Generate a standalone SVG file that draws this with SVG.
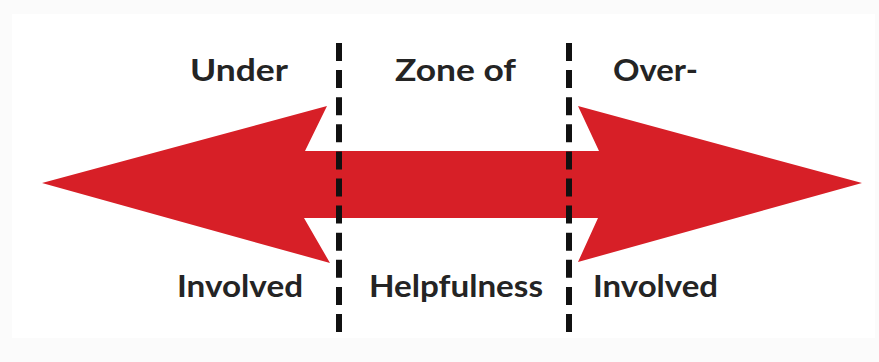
<svg xmlns="http://www.w3.org/2000/svg" width="879" height="362" viewBox="0 0 879 362">
  <style>
    .lbl { font-family: Lato, "Open Sans", "DejaVu Sans", sans-serif; font-weight: bold; font-size: 30px; fill: #242424; }
    .divider { stroke: #111; stroke-width: 6; stroke-dasharray: 18 9.1; fill: none; }
  </style>
  <rect x="0" y="0" width="879" height="362" fill="#fbfbfb"/>
  <rect x="12" y="14" width="863" height="324" fill="#ffffff"/>
  <g id="arrow">
    <polygon fill="#d71f27" points="42,183 327,106 305,151 599,151 578,106 862,183 578,262 598,218 304,218 330,263"/>
  </g>
  <g id="connectors">
    <line class="divider" x1="339" y1="43" x2="339" y2="332"/>
    <line class="divider" x1="569" y1="43" x2="569" y2="332"/>
  </g>
  <g id="under-involved">
    <text class="lbl" x="190" y="81" textLength="98" lengthAdjust="spacingAndGlyphs">Under</text>
    <text class="lbl" x="177" y="297" textLength="126" lengthAdjust="spacingAndGlyphs">Involved</text>
  </g>
  <g id="zone-of-helpfulness">
    <text class="lbl" x="395" y="81" textLength="121" lengthAdjust="spacingAndGlyphs">Zone of</text>
    <text class="lbl" x="369" y="297" textLength="174" lengthAdjust="spacingAndGlyphs">Helpfulness</text>
  </g>
  <g id="over-involved">
    <text class="lbl" x="613" y="81" textLength="85" lengthAdjust="spacingAndGlyphs">Over-</text>
    <text class="lbl" x="593" y="297" textLength="125" lengthAdjust="spacingAndGlyphs">Involved</text>
  </g>
</svg>
